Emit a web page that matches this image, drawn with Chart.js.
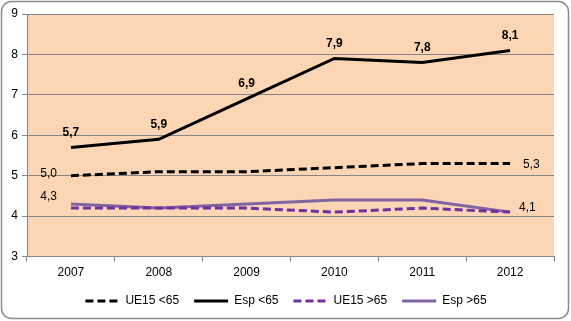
<!DOCTYPE html>
<html>
<head>
    <title>UE15 vs Esp</title>
    <script src="https://cdn.jsdelivr.net/npm/chart.js"></script>
    <style>
        body { margin: 0; background: #fff; }
        #wrap { width: 571px; height: 321px; }
    </style>
</head>
<body>
    <div id="wrap">
        <canvas id="myChart" width="571" height="321"></canvas>
    </div>
    <script>
        // chart values
        const years = ['2007', '2008', '2009', '2010', '2011', '2012'];
        const ue15Under65 = [5.0, 5.1, 5.1, 5.2, 5.3, 5.3];
        const espUnder65 = [5.7, 5.9, 6.9, 7.9, 7.8, 8.1];
        const ue15Over65 = [4.2, 4.2, 4.2, 4.1, 4.2, 4.1];
        const espOver65 = [4.3, 4.2, 4.3, 4.4, 4.4, 4.1];
        const yTicks = [3, 4, 5, 6, 7, 8, 9];

        const gridColor = '#868686';
        const fmt = v => v.toFixed(1).replace('.', ',');

        // background, outer frame, legend nudge
        const frame = {
            id: 'frame',
            afterLayout(chart) {
                const lg = chart.legend;
                lg.left += 9; lg.right += 9;
                lg.top -= 4; lg.bottom -= 4;
            },
            beforeDraw(chart) {
                const ctx = chart.ctx;
                const a = chart.chartArea;
                ctx.save();
                ctx.fillStyle = '#fff';
                ctx.fillRect(0, 0, chart.width, chart.height);
                ctx.fillStyle = '#FCD5B4';
                ctx.fillRect(a.left, a.top, a.right - a.left, a.bottom - a.top);
                ctx.strokeStyle = '#8c8c8c';
                ctx.lineWidth = 1.5;
                ctx.beginPath();
                ctx.roundRect(1.5, 1.5, chart.width - 4, chart.height - 4, 10);
                ctx.stroke();
                ctx.restore();
            }
        };

        // value labels, drawn from the data through the scales
        const valueLabels = {
            id: 'valueLabels',
            afterDatasetsDraw(chart) {
                const ctx = chart.ctx;
                const xs = chart.scales.x, ys = chart.scales.y;
                ctx.save();
                ctx.fillStyle = '#000';
                ctx.textBaseline = 'middle';

                // Esp <65: all points, bold, above
                ctx.font = 'bold 12px "Liberation Sans", sans-serif';
                ctx.textAlign = 'center';
                espUnder65.forEach((v, i) => {
                    ctx.fillText(fmt(v), xs.getPixelForValue(i), ys.getPixelForValue(v) - 15);
                });

                ctx.font = '12px "Liberation Sans", sans-serif';
                const last = years.length - 1;
                // UE15 <65: first on the left, last on the right
                ctx.textAlign = 'right';
                ctx.fillText(fmt(ue15Under65[0]), xs.getPixelForValue(0) - 14, ys.getPixelForValue(ue15Under65[0]) - 2);
                ctx.textAlign = 'left';
                ctx.fillText(fmt(ue15Under65[last]), xs.getPixelForValue(last) + 13, ys.getPixelForValue(ue15Under65[last]) + 1);
                // Esp >65: first above left, last on the right
                ctx.textAlign = 'right';
                ctx.fillText(fmt(espOver65[0]), xs.getPixelForValue(0) - 14, ys.getPixelForValue(espOver65[0]) - 7);
                ctx.textAlign = 'left';
                ctx.fillText(fmt(espOver65[last]), xs.getPixelForValue(last) + 9, ys.getPixelForValue(espOver65[last]) - 4);
                ctx.restore();
            }
        };

        const ctx = document.getElementById('myChart').getContext('2d');
        const myChart = new Chart(ctx, {
            type: 'line',
            data: {
                labels: years,
                datasets: [
                    {
                        label: 'UE15 <65',
                        data: ue15Under65,
                        borderColor: '#000000',
                        borderDash: [8, 4],
                        borderWidth: 3,
                        order: 3,
                    },
                    {
                        label: 'Esp <65',
                        data: espUnder65,
                        borderColor: '#000000',
                        borderWidth: 3,
                        order: 1,
                    },
                    {
                        label: 'UE15 >65',
                        data: ue15Over65,
                        borderColor: '#7030A0',
                        borderDash: [8, 4],
                        borderWidth: 3,
                        order: 2,
                    },
                    {
                        label: 'Esp >65',
                        data: espOver65,
                        borderColor: '#8064A2',
                        borderWidth: 3,
                        order: 4,
                    },
                ],
            },
            options: {
                responsive: false,
                animation: false,
                layout: { padding: { left: 0, top: 14, right: 17, bottom: 0 } },
                elements: {
                    point: { radius: 0, hoverRadius: 0, pointStyle: 'line' },
                    line: { tension: 0, fill: false },
                },
                plugins: {
                    tooltip: { enabled: false },
                    legend: {
                        position: 'bottom',
                        labels: {
                            usePointStyle: true,
                            pointStyle: 'line',
                            pointStyleWidth: 34,
                            boxHeight: 10,
                            padding: 15,
                            color: '#000',
                            font: { family: '"Liberation Sans", sans-serif', size: 12 },
                            sort: (a, b) => a.datasetIndex - b.datasetIndex,
                            generateLabels(chart) {
                                const items = Chart.defaults.plugins.legend.labels.generateLabels(chart);
                                items.forEach(it => {
                                    it.lineDash = chart.data.datasets[it.datasetIndex].borderDash || [];
                                });
                                return items;
                            },
                        },
                    },
                },
                scales: {
                    x: {
                        offset: true,
                        grid: {
                            offset: true,
                            drawOnChartArea: false,
                            drawTicks: true,
                            tickLength: 5,
                            color: gridColor,
                        },
                        border: { color: gridColor },
                        ticks: {
                            color: '#000',
                            padding: 4,
                            font: { family: '"Liberation Sans", sans-serif', size: 12 },
                        },
                    },
                    y: {
                        min: yTicks[0],
                        max: yTicks[yTicks.length - 1],
                        afterFit: s => { s.width = 27; },
                        afterBuildTicks: s => { s.ticks = yTicks.map(v => ({ value: v })); },
                        grid: { color: gridColor, tickLength: 5 },
                        border: { color: gridColor },
                        ticks: {
                            color: '#000',
                            padding: 4,
                            font: { family: '"Liberation Sans", sans-serif', size: 12 },
                        },
                    },
                },
            },
            plugins: [frame, valueLabels],
        });
    </script>
</body>
</html>
